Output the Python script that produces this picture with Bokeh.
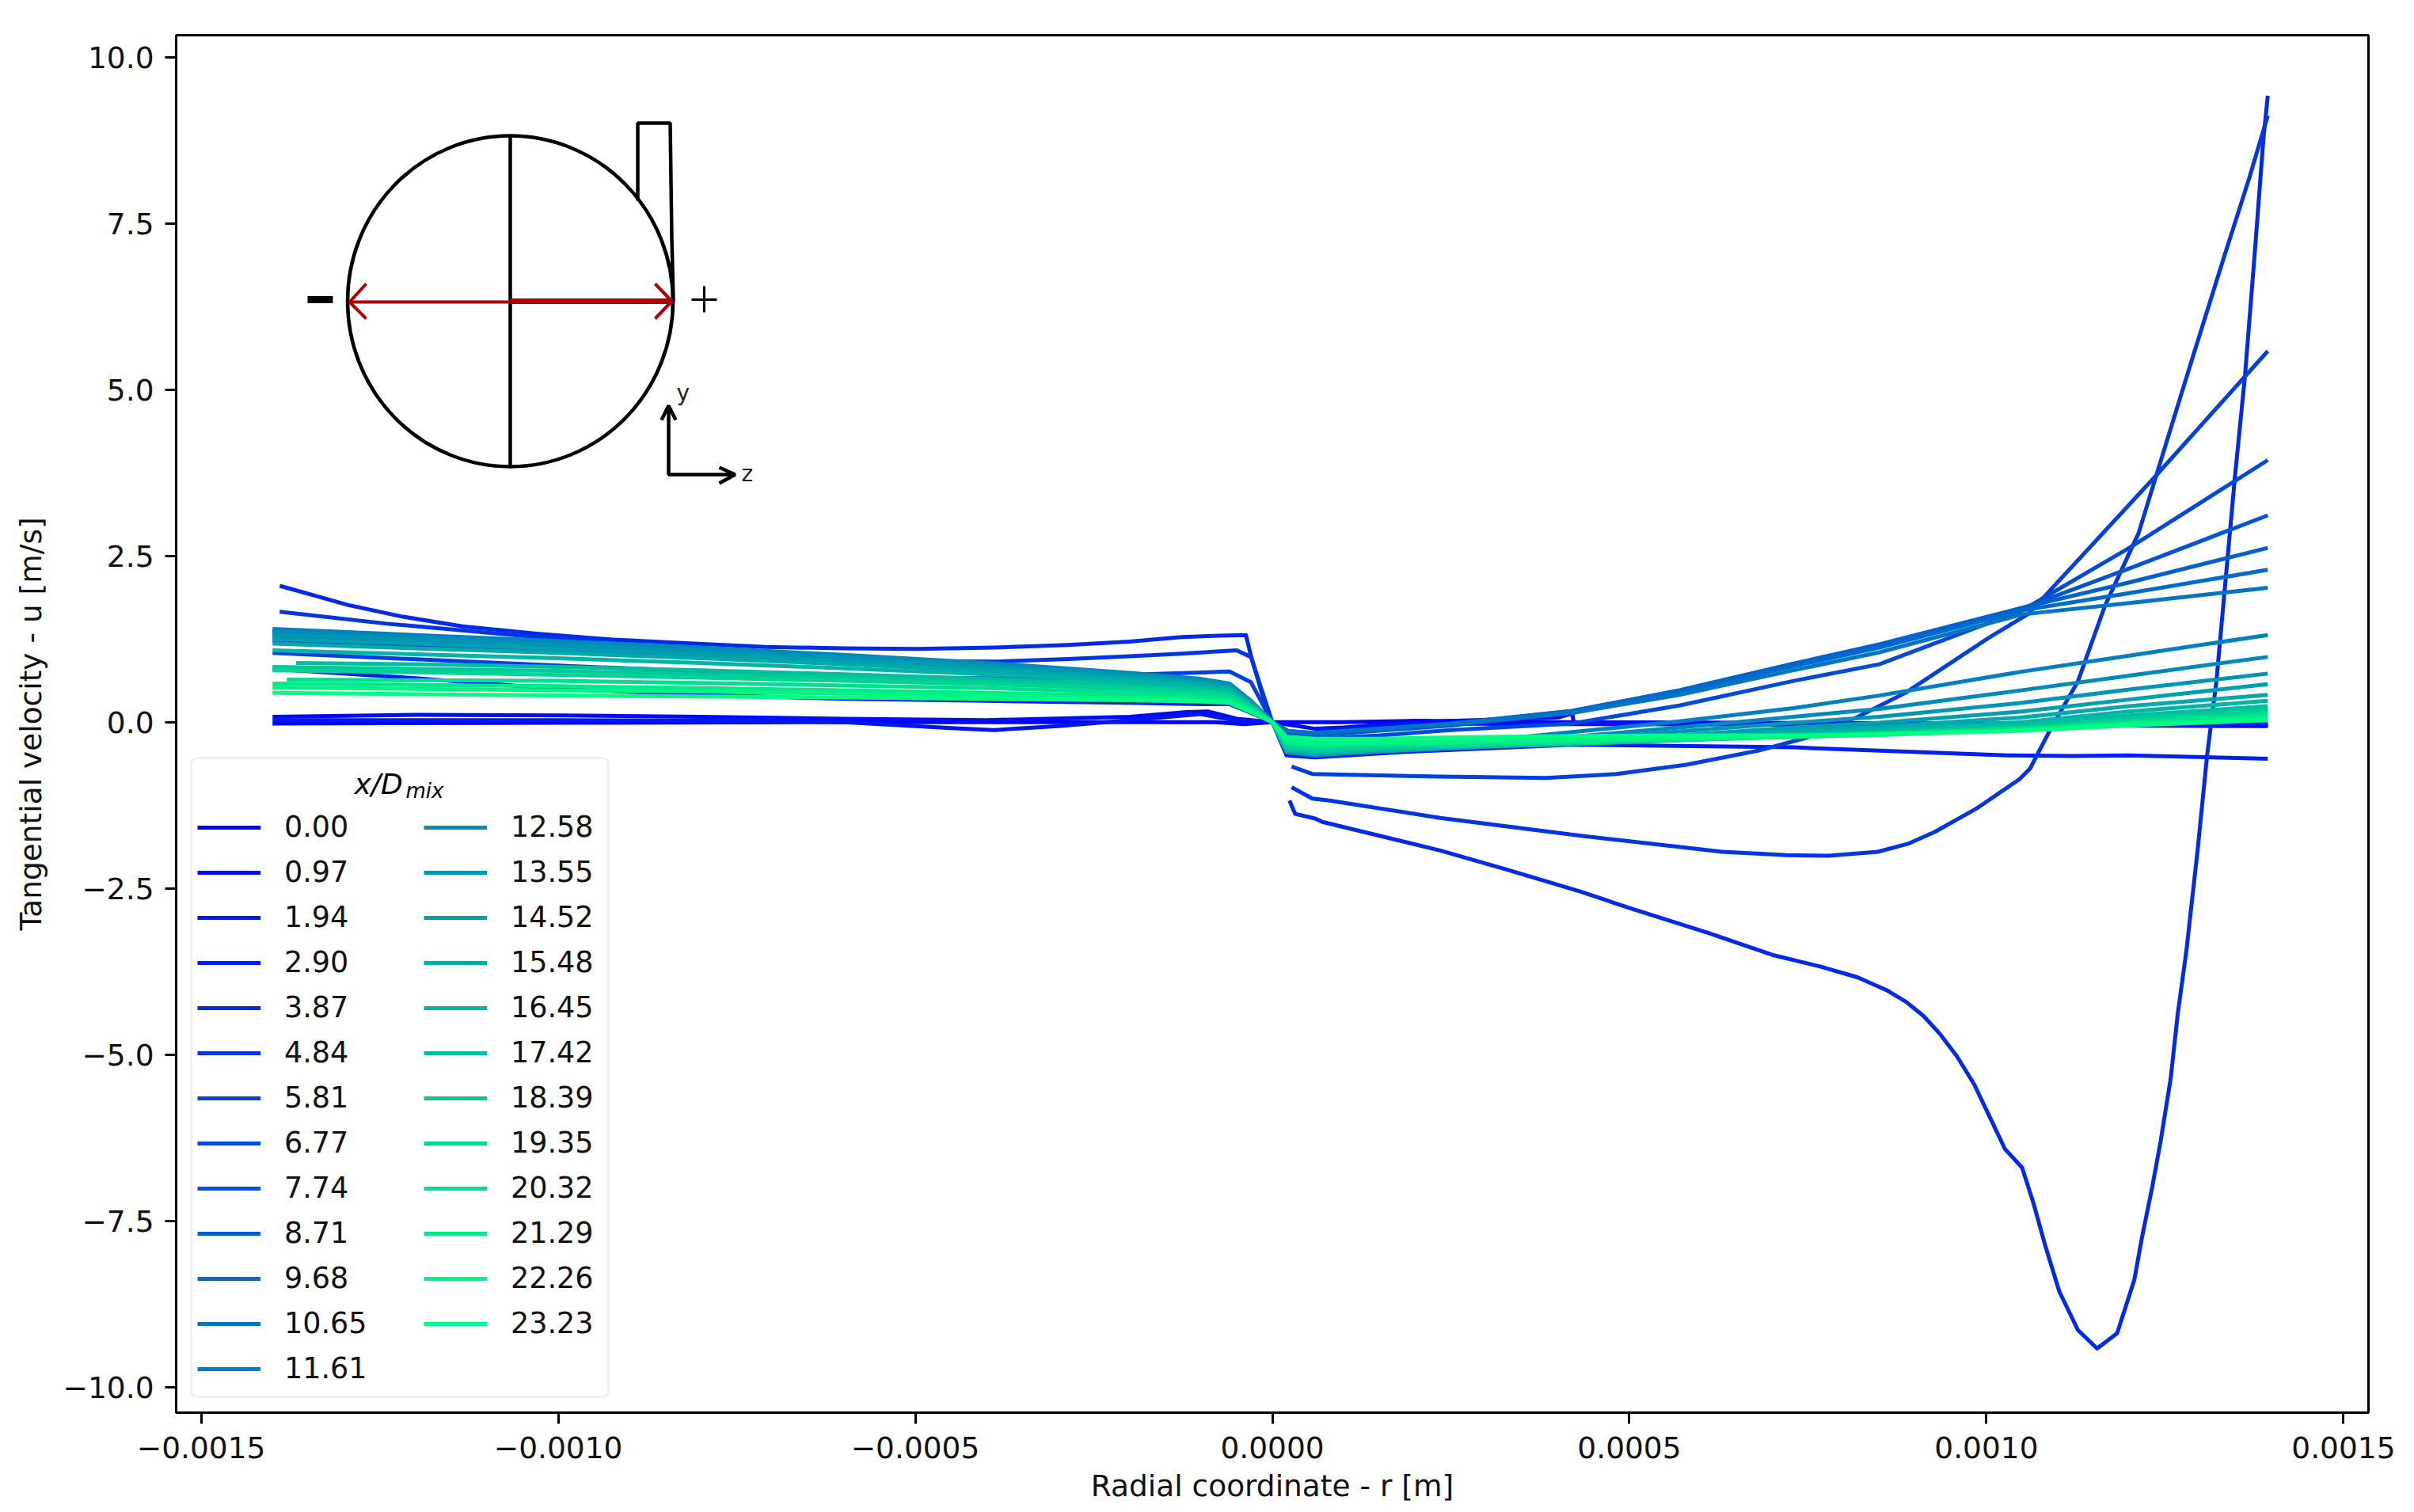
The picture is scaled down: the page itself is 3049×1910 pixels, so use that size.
from bokeh.plotting import figure
from bokeh.models import Legend, LegendItem, FixedTicker, Range1d, BoxAnnotation
from bokeh.embed import file_html
from bokeh.resources import INLINE
from bokeh.core.properties import value

NAN = float("nan")
x_over_d = ["0.00","0.97","1.94","2.90","3.87","4.84","5.81","6.77","7.74","8.71","9.68","10.65","11.61",
            "12.58","13.55","14.52","15.48","16.45","17.42","18.39","19.35","20.32","21.29","22.26","23.23"]

x_ticks = [-0.0015,-0.0010,-0.0005,0.0,0.0005,0.0010,0.0015]
x_tick_labels = ["\u22120.0015","\u22120.0010","\u22120.0005","0.0000","0.0005","0.0010","0.0015"]
y_ticks = [-10,-7.5,-5,-2.5,0,2.5,5,7.5,10]
y_tick_labels = ["\u221210.0","\u22127.5","\u22125.0","\u22122.5","0.0","2.5","5.0","7.5","10.0"]

# Shared radial stations for the well-behaved profiles
r_left = [-.0014,-.0012,-.001,-.0008,-.0006,-.0004,-.0002,-.0001,-.00006,-.00003,0.0]
r_right = [.00002,.00006,.00015,.00025,.00042,.00057,.00073,.00085,.00105,.0012,.001394]

# Profiles
s0_r = [-.0014,-.001,-.0006,-.00025,-.00008,-.00004,0.0,.0001,.0002,.0004,.0006,.0008,.001,.0012,.001394]
s0_u = [-.02,-.01,0.0,.0,.0,-.03,0.0,.0,.02,.0,-.01,-.02,-.03,-.05,-.06]
s1_r = [-.0014,-.0012,-.001,-.0008,-.0006,-.0004,-.0002,-.00012,-.00009,-.00005,0.0,.00006,.0001,.0002,.0004,.00042,.000422,.0006,.001,.001394]
s1_u = [.08,.11,.10,.08,.05,.03,.08,.15,.16,.05,0.0,-.1,-.08,.0,.07,.13,.0,-.01,-.02,-.03]
s2_r = [-.0014,-.001,-.00075,-.0006,-.00045,-.00039,-.0003,-.0002,-.0001,-.00005,0.0,.00005,NAN,.00006,.0002,.0004,.0008,.001394]
s2_u = [.03,.03,.02,.0,-.09,-.12,-.06,.03,.12,.02,0.0,-.3,NAN,-.12,-.02,-.03,-.04,-.04]
s3_r = [-.0014,-.0012,-.001,-.0008,-.0006,-.0004,-.0002,-.0001,-.00006,-.00003,0.0,.00002,.00006,.0002,.00042,.00073,.00103,.00112,.0012,.001394]
s3_u = [.8,.66,.5,.41,.35,.32,.29,.27,.27,.14,0.0,-.5,-.53,-.44,-.34,-.38,-.5,-.51,-.5,-.55]

s4_r = [-.00139,-.00134,-.001294,-.00122,-.001134,-.00103,-.000922,-.00081,-.00071,-.0006,-.000498,-.00039,-.000286,-.0002,-.000127,-.000073,-.000037,-.00003,-.000004,0.0,NAN,
        .000024,.000032,.00006,.00007,.000235,.000326,.000432,.000504,.00061,.0007,.000769,.00082,.00086,.000888,.000912,.000935,.000959,.000983,.001006,.001026,.00105,
        .001066,.001082,.001102,.001128,.001155,.001183,.001207,.001218,.001232,.001244,.001258,.001268,.00128,.001296,.001309,.001322,.001348,.001362,.001376,.001388,.001394]
s4_u = [2.05,1.9,1.76,1.59,1.44,1.33,1.24,1.18,1.13,1.11,1.10,1.12,1.16,1.21,1.28,1.30,1.31,1.0,.05,0.0,NAN,
        -1.18,-1.38,-1.45,-1.5,-1.93,-2.21,-2.55,-2.81,-3.17,-3.5,-3.68,-3.84,-4.03,-4.21,-4.42,-4.69,-5.03,-5.45,-5.97,-6.42,-6.7,
        -7.24,-7.86,-8.56,-9.14,-9.42,-9.19,-8.39,-7.74,-7.0,-6.3,-5.36,-4.38,-3.44,-1.9,-.5,.61,3.69,5.2,7.09,8.79,9.42]
s5_r = [-.00139,-.00124,-.00103,-.00081,-.00065,-.0005,-.000386,-.000286,-.0002,-.000127,-.00005,-.00003,0.0,NAN,
        .000027,.000056,.00008,.000235,.000432,.00063,.00072,.000779,.000848,.00089,.000928,.000986,.001046,.001061,.00109,.001128,.001166,.001213,.001239,.001286,.001332,.001368,.001394]
s5_u = [1.66,1.48,1.28,1.1,.98,.92,.91,.95,.99,1.03,1.08,.98,0.0,NAN,
        -.98,-1.15,-1.18,-1.44,-1.71,-1.95,-2.0,-2.01,-1.95,-1.83,-1.65,-1.3,-.86,-.7,-.1,.61,1.75,2.84,3.75,5.39,6.97,8.18,9.12]
s6_r = [-.0014,-.001,-.0006,-.0003,-.00018,-.00006,-.00003,0.0,NAN,
        .000027,.000056,.000235,.000383,.000482,.00058,.00068,.00075,.00082,.000888,.000909,.001002,.001059,.001236,.001394]
s6_u = [1.04,.85,.68,.65,.72,.76,.6,0.0,NAN,
        -.67,-.78,-.82,-.84,-.78,-.64,-.43,-.23,.08,.45,.6,1.26,1.63,3.69,5.58]

s7_l = [1.22,1.14,1.06,.98,.89,.79,.66,.58,.53,.28,0.0]
s7_u = [-.2,-.25,-.2,-.12,-.02,.25,.62,.87,1.68,2.62,3.94]
s8_l = [1.27,1.19,1.11,1.02,.92,.82,.69,.60,.55,.29,0.0]
s8_u = [-.15,-.2,-.13,-.05,.14,.45,.85,1.15,1.71,2.31,3.11]
s9_l = [1.32,1.23,1.15,1.06,.96,.85,.71,.62,.56,.30,0.0]
s9_u = [-.14,-.18,-.11,-.03,.17,.48,.88,1.17,1.72,2.1,2.62]
s10_l = [1.36,1.27,1.18,1.09,.99,.87,.73,.64,.57,.31,0.0]
s10_u = [-.13,-.17,-.1,-.02,.17,.46,.84,1.12,1.68,1.94,2.29]
s11_l = [1.37,1.28,1.19,1.1,1.0,.88,.73,.64,.57,.31,0.0]
s11_u = [-.13,-.16,-.1,-.03,.14,.41,.78,1.05,1.62,1.79,2.02]
s12_l = [1.40,1.31,1.22,1.12,1.01,.89,.74,.65,.58,.32,0.0]
s12_u = [-.44,-.50,-.42,-.33,-.15,.01,.21,.4,.76,1.0,1.31]
s13_l = [1.36,1.28,1.2,1.11,1.0,.88,.73,.64,.57,.31,0.0]
s13_u = [-.45,-.50,-.43,-.36,-.22,-.08,.08,.2,.48,.7,.98]
s14_l = [1.31,1.24,1.16,1.07,.97,.85,.71,.62,.55,.30,0.0]
s14_u = [-.45,-.49,-.44,-.38,-.27,-.14,-.01,.08,.29,.49,.73]
s15_l = [1.25,1.18,1.1,1.02,.92,.81,.68,.6,.53,.29,0.0]
s15_u = [-.44,-.48,-.44,-.39,-.3,-.2,-.08,-.01,.16,.34,.57]
s16_l = [1.18,1.11,1.04,.96,.87,.77,.65,.57,.51,.28,0.0]
s16_u = [-.43,-.47,-.43,-.39,-.32,-.24,-.13,-.07,.07,.24,.41]
s17_l = [1.08,1.02,.96,.89,.81,.72,.61,.54,.48,.26,0.0]
s17_u = [-.42,-.46,-.42,-.38,-.33,-.26,-.17,-.11,.0,.16,.32]
s18_l = [.89,.87,.83,.78,.72,.65,.56,.5,.45,.24,0.0]
s18_u = [-.4,-.44,-.41,-.37,-.33,-.27,-.19,-.14,-.04,.1,.24]
s19_l = [.83,.8,.77,.72,.67,.6,.53,.47,.43,.23,0.0]
s19_u = [-.38,-.42,-.39,-.36,-.32,-.27,-.21,-.16,-.07,.05,.19]
s20_l = [.78,.75,.71,.67,.62,.57,.5,.45,.41,.22,0.0]
s20_u = [-.36,-.4,-.37,-.35,-.31,-.27,-.22,-.18,-.09,.02,.15]
s21_l = [.64,.63,.62,.59,.55,.51,.45,.41,.37,.2,0.0]
s21_u = [-.33,-.37,-.35,-.33,-.3,-.26,-.22,-.18,-.1,.0,.12]
s22_l = [.58,.56,.54,.51,.48,.44,.4,.36,.33,.18,0.0]
s22_u = [-.3,-.34,-.33,-.31,-.28,-.25,-.22,-.19,-.11,-.02,.09]
s23_l = [.52,.5,.48,.46,.43,.4,.36,.33,.31,.17,0.0]
s23_u = [-.27,-.31,-.3,-.29,-.26,-.24,-.22,-.19,-.12,-.03,.06]
s24_l = [.44,.42,.4,.385,.37,.35,.33,.31,.29,.15,0.0]
s24_u = [-.22,-.25,-.25,-.23,-.21,-.2,-.2,-.18,-.13,-.05,.03]

# Profiles that start a little further in from the wall
start_r = {18: -.001367, 21: -.00138}

band_left = [s7_l,s8_l,s9_l,s10_l,s11_l,s12_l,s13_l,s14_l,s15_l,s16_l,s17_l,s18_l,s19_l,s20_l,s21_l,s22_l,s23_l,s24_l]
band_right = [s7_u,s8_u,s9_u,s10_u,s11_u,s12_u,s13_u,s14_u,s15_u,s16_u,s17_u,s18_u,s19_u,s20_u,s21_u,s22_u,s23_u,s24_u]

curves = [(s0_r,s0_u),(s1_r,s1_u),(s2_r,s2_u),(s3_r,s3_u),(s4_r,s4_u),(s5_r,s5_u),(s6_r,s6_u)]
for k,(lv,rv) in enumerate(zip(band_left,band_right)):
    idx = k+7
    rl = list(r_left)
    if idx in start_r:
        rl[0] = start_r[idx]
    curves.append((rl+r_right, lv+rv))

def winter(i, n=25):
    t = i/(n-1)
    return "#%02x%02x%02x" % (0, round(255*t), round(255*(1-0.5*t)))

F_L, F_R, F_T, F_B = 222, 2991, 44, 1784   # frame edges in picture pixels
XMIN, XMAX = -0.001535, 0.001535
Y0_PX, Y_PER = 911.7, 84.0
YMAX = (Y0_PX-F_T)/Y_PER
YMIN = (Y0_PX-F_B)/Y_PER

p = figure(frame_width=F_R-F_L, frame_height=F_B-F_T, output_backend="svg", toolbar_location=None,
           x_range=Range1d(XMIN,XMAX), y_range=Range1d(YMIN,YMAX),
           min_border_left=F_L, min_border_right=42, min_border_top=F_T, min_border_bottom=100)
p.grid.visible = False
p.outline_line_color = "black"
p.outline_line_width = 3
p.background_fill_color = "white"

FONT = "DejaVu Sans"
for ax, ticks, labels in ((p.xaxis[0], x_ticks, x_tick_labels),(p.yaxis[0], y_ticks, y_tick_labels)):
    ax.ticker = FixedTicker(ticks=ticks)
    ax.major_label_overrides = {t:l for t,l in zip(ticks,labels)}
    ax.major_label_text_font = FONT
    ax.major_label_text_font_size = "37.5px"
    ax.major_label_text_color = "#111111"
    ax.axis_label_text_font = FONT
    ax.axis_label_text_font_size = "37.5px"
    ax.axis_label_text_font_style = "normal"
    ax.axis_label_text_color = "#111111"
    ax.minor_tick_line_color = None
    ax.major_tick_in = 0
    ax.major_tick_out = 14
    ax.major_tick_line_width = 3
    ax.major_tick_line_color = "black"
    ax.axis_line_color = "black"
    ax.axis_line_width = 3
p.xaxis[0].axis_label = "Radial coordinate - r [m]"
p.yaxis[0].axis_label = "Tangential velocity - u [m/s]"
p.xaxis[0].major_label_standoff = 16
p.yaxis[0].major_label_standoff = 14
p.xaxis[0].axis_label_standoff = 10
p.yaxis[0].axis_label_standoff = 16

def X(px): return XMIN+(px-F_L)/(F_R-F_L)*(XMAX-XMIN)
def Y(py): return (Y0_PX-py)/Y_PER
def seg(xs, ys, color="black", lw=4.5):
    p.line([X(a) for a in xs],[Y(b) for b in ys], line_color=color, line_width=lw)

p.add_layout(BoxAnnotation(left=X(241), right=X(768), top=Y(957), bottom=Y(1764), fill_color="white", fill_alpha=0.8,
                           line_color="#cccccc", line_width=3, border_radius=8, level="underlay"))

items = []
for i,(rr,uu) in enumerate(curves):
    g = p.line(rr, uu, line_color=winter(i), line_width=5, line_join="round")
    items.append(LegendItem(label=x_over_d[i], renderers=[g]))

# inset schematic
p.ellipse(x=[X(644)], y=[Y(380)], width=[X(850)-X(439)], height=[Y(171)-Y(589)], fill_color=None, line_color="black", line_width=4.5)
seg([644,644],[171,589])
seg([805,805,846,848,850],[253,155,155,300,380])
RED = "#b00000"
seg([441,644],[381,381],RED,4)
seg([644,848],[380,380],RED,7)
seg([462,441,462],[358,381,402],RED,4)
seg([827,848,827],[358,380,402],RED,4)
seg([388,420],[378,378],"black",9)
seg([873,905],[378,378],"black",3)
seg([889,889],[361,394],"black",3)
seg([844,844,925],[512,599,599])
seg([835,844,853],[530,512,530])
seg([908,928,908],[590,599,610])
for t,px,py in (("y",854,496),("z",936,598)):
    p.text([X(px)],[Y(py)],text=[t],text_font=value(FONT),text_font_size="28px",text_color="#222222",text_baseline="middle",text_align="left")

legend = Legend(items=items, ncols=2, nrows=13, orientation="vertical", location=(27,34),
                title="\u00a0", title_text_font=FONT, title_text_font_size="35px", title_standoff=17,
                label_text_font=FONT, label_text_font_size="36.5px", label_text_color="#111111",
                glyph_width=80, glyph_height=40, label_height=40, label_standoff=30, label_width=162, spacing=14,
                padding=10, margin=0,
                border_line_color=None, background_fill_alpha=0)
p.add_layout(legend, "center")
p.text([X(447)],[Y(990)],text=["x/D"],text_font=value(FONT),text_font_size="36px",text_font_style="italic",text_baseline="middle",text_color="black",level="overlay")
p.text([X(512)],[Y(998)],text=["mix"],text_font=value(FONT),text_font_size="26px",text_font_style="italic",text_baseline="middle",text_color="black",level="overlay")

open("out.html","w").write(file_html(p, INLINE))
